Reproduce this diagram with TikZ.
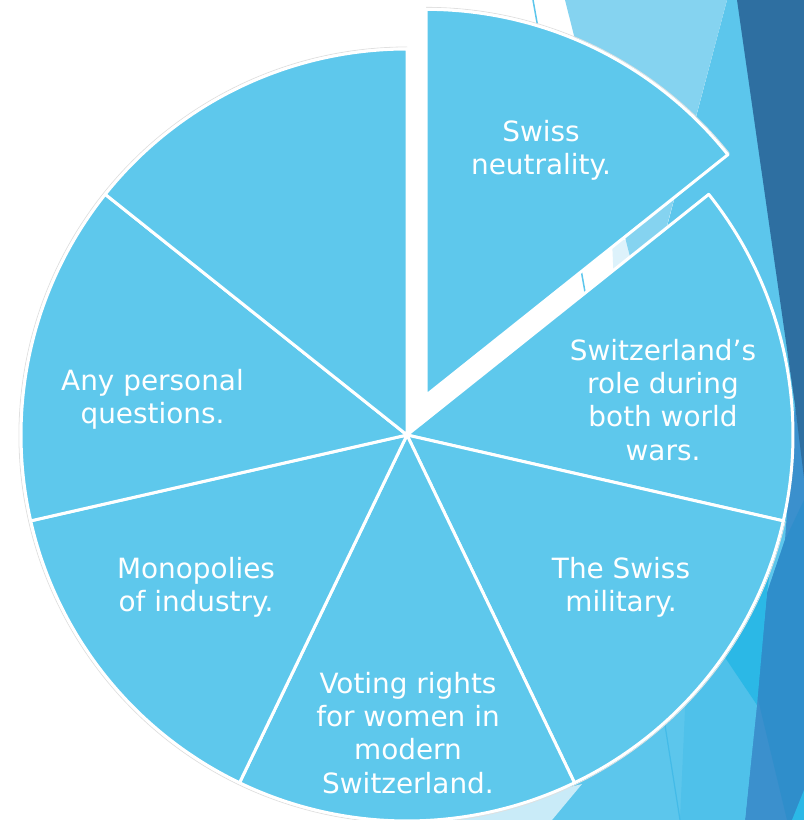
\documentclass[tikz,border=0pt]{standalone}
\usepackage{fontspec}
\setmainfont{DejaVu Sans}
\definecolor{piefill}{RGB}{94,200,236}
\definecolor{facetmid}{RGB}{92,198,236}
\definecolor{facetlight}{RGB}{133,211,240}
\definecolor{facetpale}{RGB}{221,242,251}
\definecolor{facetfoot}{RGB}{201,235,248}
\definecolor{facetdark}{RGB}{46,111,161}
\definecolor{facetsteel}{RGB}{59,144,205}
\definecolor{facetdeep}{RGB}{47,142,203}
\definecolor{facetbright}{RGB}{43,184,230}
\definecolor{facetsky}{RGB}{79,193,234}
\definecolor{facetline}{RGB}{67,187,232}
\begin{document}
\begin{tikzpicture}[x=1bp,y=1bp,
  wedge/.style={fill=piefill, draw=white, line width=3bp, line join=round},
  slice/.style={text=white, align=center, inner sep=0pt,
    font=\fontsize{28}{33.3}\selectfont}]
\useasboundingbox (0,0) rectangle (804,820);
\clip (0,0) rectangle (804,820);
\fill[white] (0,0) rectangle (804,820);

% slide facets along the right edge
\fill[facetmid] (727,820) -- (740,820) -- (804,370) -- (804,0) -- (510,0) -- cycle;
\fill[facetsteel] (795,415) -- (804,350) -- (804,0) -- (745,0) -- (767,227) -- (785,280) -- cycle;
\fill[facetdeep] (785,280) -- (804,320) -- (804,0) -- (787,0) -- (757,125) -- (767,227) -- cycle;
\fill[facetsky] (690,220) -- (757,115) -- (745,0) -- (680,0) -- cycle;
\fill[facetbright] (770,250) -- (720,170) -- (757,115) -- (767,227) -- cycle;
\fill[facetbright] (804,30) -- (804,0) -- (792,0) -- cycle;
\draw[facetline, line width=1.2bp] (661,120) -- (680,0);
\fill[facetfoot] (582,36) -- (552,0) -- (440,0) -- cycle;
\fill[facetpale] (612,580) -- (640,580) -- (660,490) -- (616,490) -- cycle;
\fill[facetlight] (565,820) -- (727,820) -- (644,508) -- cycle;
\draw[facetmid, line width=1.5bp] (533,820) -- (590,500);
\fill[facetdark] (737,820) -- (804,820) -- (804,342) -- (795,415) -- cycle;

% pie centre and the pulled-out slice
\coordinate (c) at (407,385);
\coordinate (ce) at ([shift={(64.2857:44)}]c);

% faint rim of the pie
\draw[black!12, line width=0.8bp] (c) ++(-12.857:388) arc[start angle=-12.857, end angle=-270, radius=388];
\draw[black!12, line width=0.8bp] (ce) ++(38.571:388) arc[start angle=38.571, end angle=90, radius=388];

% the six slices in place
\foreach \k in {1,...,6}{
  \draw[wedge] (c) -- ++({38.5714-51.4286*\k}:386)
    arc[start angle={38.5714-51.4286*\k}, delta angle=51.4286, radius=386] -- cycle;
}
% the exploded slice
\draw[wedge] (ce) -- ++(38.5714:386) arc[start angle=38.5714, end angle=90, radius=386] -- cycle;

% slice labels
\node[slice] (neutral) at (541,670) {Swiss\\neutrality.};
\node[slice] (wars) at (663,420) {Switzerland’s\\role during\\both world\\wars.};
\node[slice] (military) at (621,233) {The Swiss\\military.};
\node[slice] (voting) at (408,87) {Voting rights\\for women in\\modern\\Switzerland.};
\node[slice] (industry) at (196,233) {Monopolies\\of industry.};
\node[slice] (personal) at (152.5,421) {Any personal\\questions.};
\end{tikzpicture}
\end{document}
